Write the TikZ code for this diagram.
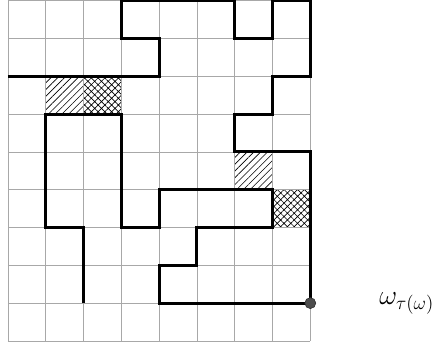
\documentclass[tikz,border=0pt]{standalone}
\usepackage{amsmath,amssymb}
\usepackage{xcolor}
\usepackage{tikz}
\usetikzlibrary{calc,patterns.meta,positioning}
\definecolor{gridc}{HTML}{A8A8A8}
\definecolor{dotc}{HTML}{4D4D4D}
\tikzset{
  wk/.style={line width=2.2pt,black,line join=miter},
  ed/.style={circle,draw=black!85,fill=dotc,minimum size=2.9mm,inner sep=0pt},
  hl/.style={pattern={Lines[angle=45,distance=3.6pt,line width=0.5pt]}},
  hx/.style={pattern={Hatch[angle=45,distance=3.6pt,line width=0.5pt]}}
}
\newcommand{\hcell}[3]{\fill[#3] (#1,#2) rectangle ++(1,1);}

\begin{document}
\begin{tikzpicture}[x=1cm,y=1cm]
\useasboundingbox (-0.21,-0.11) rectangle (11.59,9.02);
\hcell{1}{6}{hl}\hcell{2}{6}{hx}\hcell{6}{4}{hl}\hcell{7}{3}{hx}
\draw[gridc,line width=0.6pt] (0,0) grid (8,9);
\draw[wk] (0,7) -| (4,8) -| (3,9) -| (6,8) -| (7,9) -| (8,7) -| (7,6) -| (6,5) -| (8,1)
  -| (4,2) -| (5,3) -| (7,4) -| (4,3) -| (3,6) -| (1,3) -| (2,1);
\node[ed] (end) at (8,1) {};
\node[font=\huge] (lbl) [right=1.55cm of end] {$\omega_{\tau(\omega)}$};
\end{tikzpicture}
\end{document}
